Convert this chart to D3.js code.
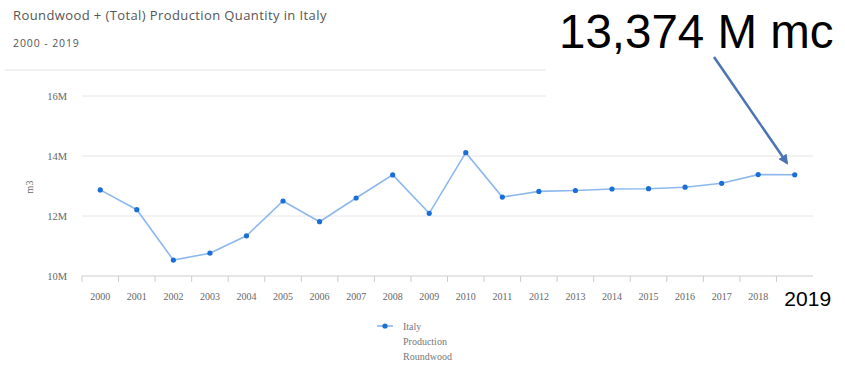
<!DOCTYPE html>
<html>
<head>
<meta charset="utf-8">
<script src="https://cdn.jsdelivr.net/npm/d3@7"></script>
<style>
  html, body { margin: 0; padding: 0; background: #fff; }
  svg { display: block; }
</style>
</head>
<body>
<svg id="chart" width="845" height="369"></svg>
<script>
const years = ["2000","2001","2002","2003","2004","2005","2006","2007","2008","2009","2010","2011","2012","2013","2014","2015","2016","2017","2018","2019"];
const production = [12.87, 12.21, 10.53, 10.76, 11.34, 12.50, 11.81, 12.60, 13.37, 12.09, 14.11, 12.63, 12.82, 12.85, 12.90, 12.91, 12.96, 13.09, 13.38, 13.374];
const yTicks = [10, 12, 14, 16];
const titleText = "Roundwood + (Total) Production Quantity in Italy";
const subtitleText = "2000 - 2019";
const legendLines = ["Italy", "Production", "Roundwood"];
const annotationText = "13,374 M mc";
const annotationYear = "2019";

const svg = d3.select("#chart");

const x = d3.scaleBand().domain(years).range([82, 813]);
const y = d3.scaleLinear().domain([10, 16]).range([276, 96]);

const serif = "'Liberation Serif', 'Times New Roman', serif";
const sans = "'Liberation Sans', Arial, sans-serif";

// title
svg.append("text").attr("x", 13).attr("y", 20)
  .attr("font-family", "'Open Sans', sans-serif").attr("font-size", 13)
  .attr("letter-spacing", 0.4).attr("fill", "#555").text(titleText);
svg.append("text").attr("x", 13).attr("y", 46.5)
  .attr("font-family", "'Open Sans', sans-serif").attr("font-size", 10.5)
  .attr("letter-spacing", 0.9).attr("fill", "#555").text(subtitleText);
svg.append("line").attr("x1", 5).attr("x2", 845).attr("y1", 70).attr("y2", 70)
  .attr("stroke", "#ececec").attr("stroke-width", 1.5);

// gridlines
const grid = svg.append("g");
grid.selectAll("line").data(yTicks.filter(d => d > 10)).join("line")
  .attr("x1", 82).attr("x2", 813)
  .attr("y1", d => y(d)).attr("y2", d => y(d))
  .attr("stroke", "#e6e6e6").attr("stroke-width", 1);

// y axis labels
const yAxis = svg.append("g").attr("transform", "translate(82,0)")
  .call(d3.axisLeft(y).tickValues(yTicks).tickSize(0).tickPadding(15).tickFormat(d => d + "M"));
yAxis.select(".domain").remove();
yAxis.selectAll("text").attr("font-family", serif).attr("font-size", 10.5).attr("fill", "#666");

svg.append("text").attr("transform", "translate(33,187) rotate(-90)")
  .attr("text-anchor", "middle").attr("font-family", serif).attr("font-size", 10)
  .attr("fill", "#666").text("m3");

// x axis with ticks at band boundaries
const xAxisG = svg.append("g").attr("transform", "translate(0,276)");
xAxisG.append("line").attr("x1", 82).attr("x2", 813).attr("y1", 0).attr("y2", 0)
  .attr("stroke", "#ccc");
xAxisG.selectAll("line.tick").data(years).join("line").attr("class", "tick")
  .attr("x1", d => x(d)).attr("x2", d => x(d)).attr("y1", 0).attr("y2", 6)
  .attr("stroke", "#ccc");
// small labels for all years except the one replaced by the large annotation label
xAxisG.selectAll("text").data(years.filter(d => d !== annotationYear)).join("text")
  .attr("x", d => x(d) + x.bandwidth() / 2).attr("y", 24)
  .attr("text-anchor", "middle").attr("font-family", serif).attr("font-size", 10)
  .attr("fill", "#666").text(d => d);

// line
const line = d3.line().x((d, i) => x(years[i]) + x.bandwidth() / 2).y(d => y(d));
svg.append("path").datum(production).attr("d", line)
  .attr("fill", "none").attr("stroke", "#8cb8ee").attr("stroke-width", 1.6);
svg.selectAll("circle.pt").data(production).join("circle").attr("class", "pt")
  .attr("cx", (d, i) => x(years[i]) + x.bandwidth() / 2).attr("cy", d => y(d))
  .attr("r", 2.6).attr("fill", "#1a6fd6");

// legend
const lg = svg.append("g");
lg.append("line").attr("x1", 377).attr("x2", 393).attr("y1", 326).attr("y2", 326)
  .attr("stroke", "#8cb8ee").attr("stroke-width", 1.6);
lg.append("circle").attr("cx", 385).attr("cy", 326).attr("r", 2.6).attr("fill", "#1a6fd6");
lg.selectAll("text").data(legendLines).join("text")
  .attr("x", 403).attr("y", (d, i) => 330 + i * 15)
  .attr("font-family", serif).attr("font-size", 10).attr("fill", "#777").text(d => d);

// annotation overlay box (covers top-right of the header rule and 16M gridline)
svg.append("rect").attr("x", 546).attr("y", 0).attr("width", 299).attr("height", 104).attr("fill", "#fff");

svg.append("text").attr("x", 559).attr("y", 48)
  .attr("font-family", sans).attr("font-size", 47.5)
  .attr("fill", "#000").text(annotationText);
svg.append("text").attr("x", x(annotationYear) + x.bandwidth() / 2 + 13).attr("y", 306)
  .attr("text-anchor", "middle")
  .attr("font-family", sans).attr("font-size", 21)
  .attr("fill", "#000").text(annotationYear);

// arrow
const defs = svg.append("defs");
defs.append("marker").attr("id", "ah").attr("viewBox", "0 0 10 10")
  .attr("refX", 8).attr("refY", 5).attr("markerWidth", 4).attr("markerHeight", 4)
  .attr("orient", "auto")
  .append("path").attr("d", "M0,0 L10,5 L0,10 z").attr("fill", "#4a74b4");
svg.append("line").attr("x1", 714).attr("y1", 57).attr("x2", 787).attr("y2", 163)
  .attr("stroke", "#4a74b4").attr("stroke-width", 2.5).attr("marker-end", "url(#ah)");
</script>
</body>
</html>
